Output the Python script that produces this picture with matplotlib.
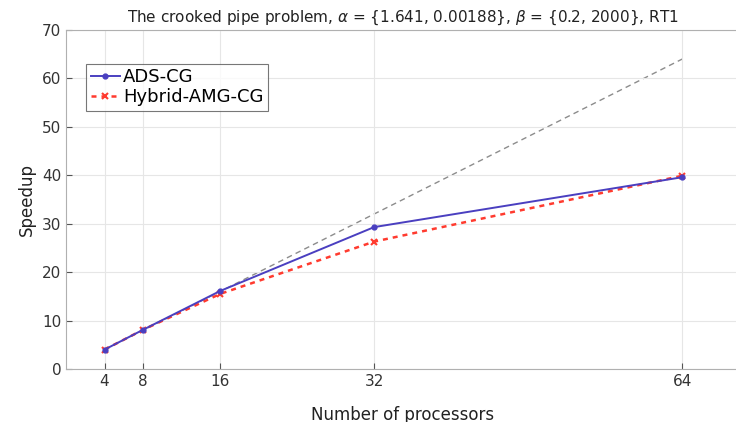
import matplotlib
matplotlib.use("Agg")
import matplotlib.pyplot as plt

procs = [4, 8, 16, 32, 64]
ads_cg = [4.0, 8.1, 16.1, 29.3, 39.6]
hybrid = [4.0, 8.1, 15.5, 26.3, 39.9]
ideal = [4, 8, 16, 32, 64]
xticks = [4, 8, 16, 32, 64]
yticks = [0, 10, 20, 30, 40, 50, 60, 70]

fig = plt.figure(figsize=(7.36, 4.22), dpi=100)
ax = fig.add_axes([66/736, 53/422, (740-66)/736, (369-30)/422])

ax.plot(procs, ideal, '--', color='#8c8c8c', lw=1.0, dashes=(4, 3), zorder=1)
ax.plot(procs, ads_cg, '-', color='#4a3fc0', lw=1.4, marker='o', ms=3.5, label='ADS-CG', zorder=3)
ax.plot(procs, hybrid, ':', color='#ff3b2f', lw=1.8, marker='x', ms=4, mew=1.5, label='Hybrid-AMG-CG', zorder=2,
        dashes=(2, 2))

ax.set_xlim(0, 70)
ax.set_ylim(0, 70)
ax.set_xticks(xticks)
ax.set_yticks(yticks)
ax.grid(True, color='#e6e6e6', lw=0.8)
ax.tick_params(direction='in', length=4, color='#555555', labelsize=11, labelcolor='#333333')
for s in ['left', 'bottom', 'top']:
    ax.spines[s].set_color('#b0b0b0')
ax.spines['right'].set_visible(False)

ax.set_title(r'The crooked pipe problem, $\alpha$ = {1.641, 0.00188}, $\beta$ = {0.2, 2000}, RT1',
             fontsize=11, color='#222222', pad=6)
ax.set_ylabel('Speedup', fontsize=12, color='#222222')
ax.set_xlabel('Number of processors', fontsize=12, color='#222222', labelpad=12)

leg = ax.legend(loc='upper left', bbox_to_anchor=(0.03, 0.9), fontsize=13, frameon=True, fancybox=False,
                edgecolor='#555555', borderpad=0.25, handlelength=1.6, handletextpad=0.2, labelspacing=0.1,
                borderaxespad=0)
leg.get_frame().set_linewidth(0.8)

fig.savefig('out.png', dpi=100)
